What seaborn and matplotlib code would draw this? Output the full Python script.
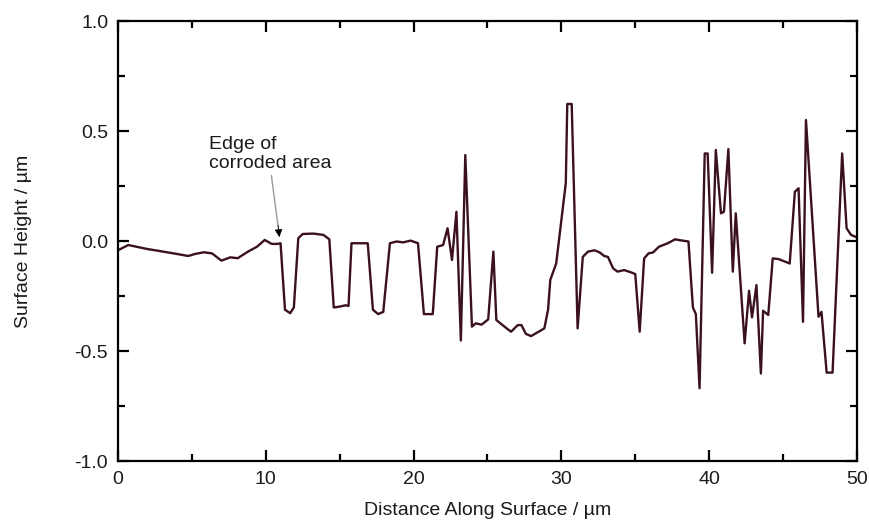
import matplotlib
matplotlib.use("Agg")
import matplotlib.pyplot as plt
import seaborn as sns
import pandas as pd
from matplotlib.ticker import MultipleLocator, FormatStrFormatter

distance = [0.0, 0.7, 1.4, 2.05, 2.7, 3.4, 4.1, 4.75, 5.2, 5.8, 6.36, 7.0, 7.6, 8.1, 8.8, 9.4, 9.93,
            10.4, 10.8, 11.0, 11.3, 11.65, 11.9, 12.2, 12.5, 13.2, 13.9, 14.3, 14.6, 15.0, 15.4, 15.6,
            15.8, 16.3, 16.9, 17.25, 17.6, 17.95, 18.4, 18.85, 19.3, 19.8, 20.3, 20.7, 21.3, 21.6,
            22.0, 22.3, 22.6, 22.9, 23.2, 23.5, 23.95, 24.2, 24.6, 25.05, 25.4, 25.6, 26.3, 26.6,
            27.05, 27.3, 27.6, 27.95, 28.85, 29.1, 29.25, 29.65, 30.3, 30.4, 30.7, 31.1, 31.45,
            31.8, 32.25, 32.6, 32.9, 33.15, 33.5, 33.8, 34.25, 34.7, 35.0, 35.3, 35.6, 35.9, 36.2,
            36.6, 37.2, 37.7, 38.0, 38.6, 38.9, 39.1, 39.35, 39.7, 39.9, 40.2, 40.45, 40.8, 41.0,
            41.3, 41.6, 41.8, 42.4, 42.7, 42.9, 43.2, 43.5, 43.65, 44.0, 44.3, 44.7, 45.45, 45.8,
            46.05, 46.35, 46.55, 47.4, 47.6, 47.95, 48.35, 49.0, 49.3, 49.6, 49.95]
height = [-0.04, -0.016, -0.026, -0.035, -0.042, -0.05, -0.058, -0.066, -0.057, -0.049, -0.054,
          -0.087, -0.072, -0.076, -0.046, -0.024, 0.007, -0.011, -0.011, -0.008, -0.31, -0.326,
          -0.30, 0.015, 0.034, 0.036, 0.03, 0.01, -0.30, -0.296, -0.29, -0.293, -0.008, -0.008,
          -0.008, -0.31, -0.33, -0.32, -0.008, 0.0, -0.004, 0.004, -0.008, -0.33, -0.33, -0.024,
          -0.016, 0.06, -0.084, 0.135, -0.45, 0.393, -0.387, -0.372, -0.378, -0.354, -0.046,
          -0.357, -0.395, -0.41, -0.38, -0.38, -0.42, -0.43, -0.395, -0.31, -0.175, -0.10, 0.265,
          0.625, 0.625, -0.395, -0.07, -0.046, -0.04, -0.05, -0.066, -0.07, -0.122, -0.137, -0.13,
          -0.14, -0.148, -0.41, -0.077, -0.054, -0.05, -0.024, -0.008, 0.01, 0.006, 0.0, -0.30,
          -0.33, -0.667, 0.40, 0.40, -0.142, 0.416, 0.128, 0.135, 0.42, -0.137, 0.128, -0.463,
          -0.224, -0.345, -0.198, -0.6, -0.315, -0.334, -0.077, -0.08, -0.10, 0.226, 0.242,
          -0.365, 0.552, -0.342, -0.32, -0.596, -0.596, 0.40, 0.06, 0.03, 0.02]

x_ticks = [0, 10, 20, 30, 40, 50]
y_ticks = [-1.0, -0.5, 0.0, 0.5, 1.0]
annotation_lines = ["Edge of", "corroded area"]

sns.set_theme(style="ticks")
plt.rcParams["font.family"] = ["Liberation Sans", "DejaVu Sans"]
plt.rcParams["axes.unicode_minus"] = False

df = pd.DataFrame({"Distance": distance, "Height": height})

fig = plt.figure(figsize=(8.7, 5.29), dpi=100)
ax = fig.add_axes([0.1356, 0.1276, 0.8494, 0.8318])

sns.lineplot(data=df, x="Distance", y="Height", ax=ax, sort=False, estimator=None,
             color="#3b1020", linewidth=1.7)

ax.set_xlim(0, 50)
ax.set_ylim(-1.0, 1.0)
ax.set_xticks(x_ticks)
ax.set_yticks(y_ticks)
ax.xaxis.set_minor_locator(MultipleLocator(5))
ax.yaxis.set_minor_locator(MultipleLocator(0.25))
ax.yaxis.set_major_formatter(FormatStrFormatter("%.1f"))

for s in ax.spines.values():
    s.set_visible(True)
    s.set_linewidth(1.6)
    s.set_color("black")

ax.tick_params(which="both", direction="in", top=True, right=True, colors="black",
               labelsize=14, labelcolor="#1a1a1a", width=1.6)
ax.tick_params(which="major", length=8, pad=7)
ax.tick_params(which="minor", length=5)

ax.set_xlabel("Distance Along Surface / µm", fontsize=14, color="#1a1a1a")
ax.set_ylabel("Surface Height / µm", fontsize=14, color="#1a1a1a")
ax.xaxis.set_label_coords(0.5, -0.092)
ax.yaxis.set_label_coords(-0.117, 0.5)

# annotation text
ax.text(6.15, 0.42, annotation_lines[0], fontsize=14, ha="left", va="baseline", color="#1a1a1a")
ax.text(6.15, 0.334, annotation_lines[1], fontsize=14, ha="left", va="baseline", color="#1a1a1a")
# gray arrow shaft
ax.annotate("", xy=(10.85, 0.06), xytext=(10.38, 0.30),
            arrowprops=dict(arrowstyle="-", color="#9a9a9a", lw=1.0, shrinkA=0, shrinkB=0))
# black arrow head
ax.annotate("", xy=(10.92, 0.02), xytext=(10.83, 0.075),
            arrowprops=dict(arrowstyle="-|>", color="black", lw=0.5, mutation_scale=12,
                            shrinkA=0, shrinkB=0))

fig.savefig("out.png", dpi=100, facecolor="white")
